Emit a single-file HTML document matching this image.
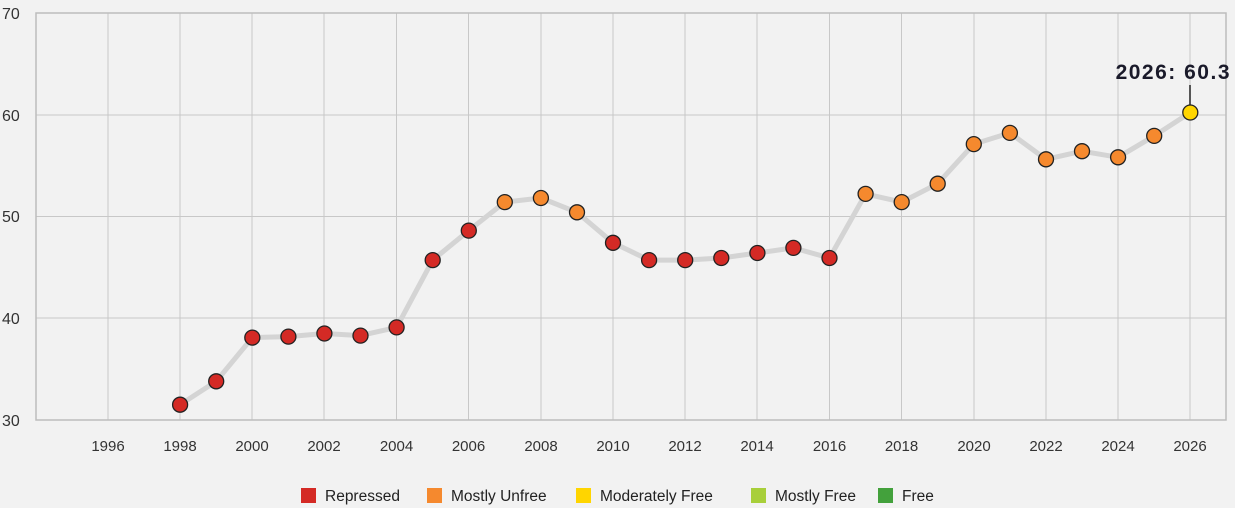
<!DOCTYPE html>
<html><head><meta charset="utf-8"><style>
body{margin:0;background:#f2f2f2;}
svg{display:block;font-family:"Liberation Sans",sans-serif;}
</style></head><body>
<svg width="1235" height="508" viewBox="0 0 1235 508">
<rect width="1235" height="508" fill="#f2f2f2"/>
<g stroke="#c8c8c8" stroke-width="1">
<line x1="36" y1="115" x2="1226" y2="115"/>
<line x1="36" y1="216.5" x2="1226" y2="216.5"/>
<line x1="36" y1="318" x2="1226" y2="318"/>
<line x1="108" y1="13" x2="108" y2="420"/><line x1="180" y1="13" x2="180" y2="420"/>
<line x1="252" y1="13" x2="252" y2="420"/><line x1="324" y1="13" x2="324" y2="420"/>
<line x1="396.5" y1="13" x2="396.5" y2="420"/><line x1="468.5" y1="13" x2="468.5" y2="420"/>
<line x1="541" y1="13" x2="541" y2="420"/><line x1="613" y1="13" x2="613" y2="420"/>
<line x1="685" y1="13" x2="685" y2="420"/><line x1="757" y1="13" x2="757" y2="420"/>
<line x1="829.5" y1="13" x2="829.5" y2="420"/><line x1="901.5" y1="13" x2="901.5" y2="420"/>
<line x1="974" y1="13" x2="974" y2="420"/><line x1="1046" y1="13" x2="1046" y2="420"/>
<line x1="1118" y1="13" x2="1118" y2="420"/><line x1="1190" y1="13" x2="1190" y2="420"/>
</g>
<rect x="36" y="13" width="1190" height="407" fill="none" stroke="#bdbdbd" stroke-width="1.5"/>
<g fill="#333" font-size="16">
<text x="2" y="19">70</text><text x="2" y="121">60</text><text x="2" y="222">50</text><text x="2" y="324">40</text><text x="2" y="426">30</text>
</g>
<g fill="#333" font-size="15" text-anchor="middle">
<text x="108" y="451">1996</text><text x="180" y="451">1998</text><text x="252" y="451">2000</text><text x="324" y="451">2002</text><text x="396.5" y="451">2004</text><text x="468.5" y="451">2006</text><text x="541" y="451">2008</text><text x="613" y="451">2010</text><text x="685" y="451">2012</text><text x="757" y="451">2014</text><text x="829.5" y="451">2016</text><text x="901.5" y="451">2018</text><text x="974" y="451">2020</text><text x="1046" y="451">2022</text><text x="1118" y="451">2024</text><text x="1190" y="451">2026</text>
</g>
<polyline fill="none" stroke="#d4d4d4" stroke-width="5" stroke-linejoin="round" points="180.1,404.7 216.2,381.3 252.3,337.6 288.4,336.6 324.4,333.5 360.5,335.6 396.6,327.4 432.7,260.1 468.8,230.6 504.8,202.1 540.9,198 577,212.3 613,242.8 649.1,260.1 685.2,260.1 721.3,258 757.4,253 793.4,247.9 829.5,258 865.6,193.9 901.7,202.1 937.7,183.7 973.8,144.1 1009.9,132.9 1046,159.3 1082,151.2 1118.1,157.3 1154.2,135.9 1190.3,112.5"/>
<line x1="1190" y1="85" x2="1190" y2="105" stroke="#222" stroke-width="1.5"/>
<g stroke="#222" stroke-width="1.3" fill="#d42a25">
<circle cx="180.1" cy="404.7" r="7.5"/><circle cx="216.2" cy="381.3" r="7.5"/><circle cx="252.3" cy="337.6" r="7.5"/><circle cx="288.4" cy="336.6" r="7.5"/><circle cx="324.4" cy="333.5" r="7.5"/><circle cx="360.5" cy="335.6" r="7.5"/><circle cx="396.6" cy="327.4" r="7.5"/><circle cx="432.7" cy="260.1" r="7.5"/><circle cx="468.8" cy="230.6" r="7.5"/>
</g>
<g stroke="#222" stroke-width="1.3" fill="#f5892e">
<circle cx="504.8" cy="202.1" r="7.5"/><circle cx="540.9" cy="198" r="7.5"/><circle cx="577" cy="212.3" r="7.5"/>
</g>
<g stroke="#222" stroke-width="1.3" fill="#d42a25">
<circle cx="613" cy="242.8" r="7.5"/><circle cx="649.1" cy="260.1" r="7.5"/><circle cx="685.2" cy="260.1" r="7.5"/><circle cx="721.3" cy="258" r="7.5"/><circle cx="757.4" cy="253" r="7.5"/><circle cx="793.4" cy="247.9" r="7.5"/><circle cx="829.5" cy="258" r="7.5"/>
</g>
<g stroke="#222" stroke-width="1.3" fill="#f5892e">
<circle cx="865.6" cy="193.9" r="7.5"/><circle cx="901.7" cy="202.1" r="7.5"/><circle cx="937.7" cy="183.7" r="7.5"/><circle cx="973.8" cy="144.1" r="7.5"/><circle cx="1009.9" cy="132.9" r="7.5"/><circle cx="1046" cy="159.3" r="7.5"/><circle cx="1082" cy="151.2" r="7.5"/><circle cx="1118.1" cy="157.3" r="7.5"/><circle cx="1154.2" cy="135.9" r="7.5"/>
</g>
<circle cx="1190.3" cy="112.5" r="7.5" fill="#ffd500" stroke="#222" stroke-width="1.3"/>
<text x="1231" y="79" text-anchor="end" font-size="21" font-weight="bold" letter-spacing="1.5" fill="#1a1a2a">2026: 60.3</text>
<g font-size="15.5" fill="#222">
<rect x="301" y="488" width="15" height="15" fill="#d42a25"/><text x="325" y="501">Repressed</text>
<rect x="427" y="488" width="15" height="15" fill="#f5892e"/><text x="451" y="501">Mostly Unfree</text>
<rect x="576" y="488" width="15" height="15" fill="#ffd500"/><text x="600" y="501">Moderately Free</text>
<rect x="751" y="488" width="15" height="15" fill="#a8cf3a"/><text x="775" y="501">Mostly Free</text>
<rect x="878" y="488" width="15" height="15" fill="#43a13c"/><text x="902" y="501">Free</text>
</g>
</svg>
</body></html>
